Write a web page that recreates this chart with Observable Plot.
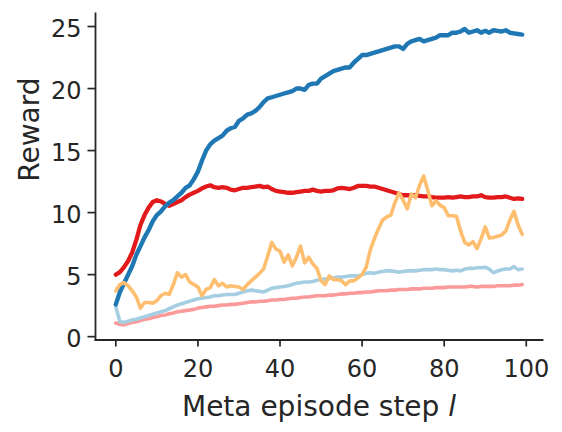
<!DOCTYPE html>
<html>
<head>
<meta charset="utf-8">
<script src="https://cdn.jsdelivr.net/npm/d3@7"></script>
<script src="https://cdn.jsdelivr.net/npm/@observablehq/plot@0.6"></script>
<style>
  html, body { margin: 0; padding: 0; background: #ffffff; }
  #chart svg { display: block; }
</style>
</head>
<body>
<div id="chart"></div>
<script>
// ---- data ----
const steps = [0,1,2,3,4,5,6,7,8,9,10,11,12,13,14,15,16,17,18,19,20,21,22,23,24,25,26,27,28,29,30,31,32,33,34,35,36,37,38,39,40,41,42,43,44,45,46,47,48,49,50,51,52,53,54,55,56,57,58,59,60,61,62,63,64,65,66,67,68,69,70,71,72,73,74,75,76,77,78,79,80,81,82,83,84,85,86,87,88,89,90,91,92,93,94,95,96,97,98,99];

const blueReward = [2.6,3.6,4.3,5.0,5.7,6.6,7.3,8.0,8.6,9.3,
  9.8,10.1,10.5,10.8,11.0,11.3,11.6,12.0,12.2,12.7,
  13.3,14.2,15.0,15.5,15.8,16.0,16.2,16.6,16.8,16.9,
  17.4,17.6,17.9,18.0,18.2,18.5,18.9,19.2,19.3,19.4,
  19.5,19.6,19.7,19.8,20.0,20.0,19.9,20.3,20.4,20.4,
  20.8,21.0,21.2,21.4,21.5,21.6,21.7,21.7,22.1,22.4,
  22.7,22.7,22.8,22.9,23.0,23.1,23.2,23.3,23.4,23.4,
  23.2,23.6,23.8,23.9,24.0,23.8,23.9,24.0,24.1,24.3,
  24.3,24.3,24.5,24.5,24.6,24.8,24.5,24.6,24.7,24.5,
  24.65,24.5,24.7,24.65,24.6,24.7,24.5,24.45,24.4,24.35];

const redReward = [5.0,5.2,5.6,6.1,6.8,7.8,9.0,9.8,10.4,10.85,
  11.0,10.9,10.7,10.55,10.7,10.85,11.0,11.25,11.45,11.6,
  11.75,11.95,12.1,12.2,12.05,12.0,12.05,12.0,11.85,11.8,
  11.9,12.0,12.0,12.05,12.1,12.15,12.05,12.1,11.9,11.75,
  11.7,11.65,11.6,11.6,11.65,11.7,11.75,11.75,11.85,11.75,
  11.7,11.75,11.75,11.8,11.95,12.0,11.95,11.9,12.0,12.15,
  12.15,12.15,12.1,12.1,12.0,11.9,11.8,11.7,11.6,11.5,
  11.4,11.4,11.4,11.4,11.35,11.3,11.3,11.25,11.2,11.2,
  11.2,11.25,11.2,11.25,11.3,11.25,11.25,11.3,11.3,11.4,
  11.25,11.2,11.2,11.25,11.25,11.3,11.2,11.1,11.15,11.1];

const lightBlueReward = [2.4,1.2,1.15,1.25,1.35,1.4,1.5,1.6,1.7,1.8,
  1.9,2.0,2.1,2.25,2.4,2.55,2.65,2.75,2.85,2.95,
  3.05,3.1,3.15,3.2,3.3,3.3,3.35,3.4,3.4,3.4,
  3.5,3.6,3.7,3.75,3.7,3.65,3.6,3.75,3.9,3.95,
  4.0,4.05,4.1,4.2,4.3,4.35,4.4,4.4,4.45,4.55,
  4.6,4.65,4.7,4.75,4.8,4.8,4.85,4.9,4.9,4.9,
  5.0,5.1,5.15,5.1,5.2,5.25,5.3,5.3,5.25,5.2,
  5.25,5.3,5.3,5.3,5.35,5.4,5.4,5.4,5.45,5.4,
  5.4,5.35,5.3,5.35,5.3,5.45,5.5,5.5,5.55,5.55,
  5.6,5.45,5.15,5.3,5.4,5.45,5.45,5.65,5.4,5.45];

const pinkReward = [1.1,1.0,0.95,1.05,1.15,1.2,1.3,1.4,1.45,1.55,
  1.6,1.7,1.75,1.85,1.9,2.0,2.05,2.1,2.15,2.2,
  2.3,2.35,2.4,2.45,2.45,2.5,2.55,2.55,2.6,2.6,
  2.65,2.7,2.75,2.8,2.8,2.85,2.85,2.9,2.95,2.95,
  3.0,3.0,3.05,3.1,3.1,3.15,3.2,3.2,3.25,3.3,
  3.3,3.3,3.35,3.35,3.4,3.45,3.45,3.5,3.5,3.55,
  3.55,3.6,3.6,3.65,3.7,3.7,3.7,3.75,3.75,3.8,
  3.8,3.8,3.85,3.85,3.85,3.9,3.9,3.9,3.95,3.95,
  3.95,4.0,4.0,4.0,4.0,4.0,4.05,4.05,4.0,4.05,
  4.05,4.05,4.05,4.1,4.1,4.1,4.1,4.15,4.15,4.2];

const orangeReward = [3.7,4.2,4.35,4.1,3.7,3.2,2.3,2.75,2.75,2.7,
  2.9,3.3,3.5,3.4,4.2,5.15,4.8,5.0,4.4,4.2,
  4.0,3.3,3.8,3.95,4.6,4.1,4.3,4.0,4.1,4.05,
  4.0,3.8,4.2,4.5,4.8,5.1,5.45,6.5,7.6,7.05,
  6.9,6.0,6.6,5.7,6.4,7.3,5.95,6.4,5.85,5.5,
  4.5,4.2,4.9,4.6,4.6,4.5,4.2,4.5,4.5,4.75,
  5.0,5.6,7.0,7.9,8.7,9.4,9.65,9.8,10.8,11.6,
  11.0,10.3,11.5,11.2,12.2,12.95,11.8,10.55,10.95,10.6,
  10.4,9.75,9.75,9.7,8.5,7.6,7.4,7.65,7.1,7.9,
  8.85,7.95,8.0,8.1,8.2,8.5,9.4,10.1,9.0,8.25];

const xTicks = [0, 20, 40, 60, 80, 100];
const yTicks = [0, 5, 10, 15, 20, 25];
const xLabelMain = "Meta episode step ";
const xLabelVar = "l";
const yLabel = "Reward";

// drawing order (bottom to top) and styles
const seriesNames = ["pink", "lightblue", "red", "blue", "orange"];
const seriesValues = [pinkReward, lightBlueReward, redReward, blueReward, orangeReward];
const seriesColors = ["#fb9a99", "#a6cee3", "#e31a1c", "#1f78b4", "#fdbf6f"];
const seriesWidths = [3.6, 3.6, 4.3, 4.4, 3.6];

const rows = seriesNames.flatMap((name, k) =>
  steps.map((s, i) => ({series: name, step: s, reward: seriesValues[k][i]})));

const ink = "#262626";

const svg = Plot.plot({
  width: 562,
  height: 432,
  marginLeft: 95,
  marginRight: 20,
  marginTop: 13,
  marginBottom: 92.5,
  style: {fontFamily: "DejaVu Sans", fontSize: "24px", color: ink, background: "#ffffff"},
  x: {domain: [-4.95, 103.95]},
  y: {domain: [-0.27, 26.05]},
  marks: [
    ...seriesNames.map((name, k) => Plot.line(rows.filter(r => r.series === name), {
      x: "step", y: "reward", stroke: seriesColors[k], strokeWidth: seriesWidths[k]
    })),
    Plot.frame({anchor: "left", stroke: ink, strokeWidth: 1.8}),
    Plot.frame({anchor: "bottom", stroke: ink, strokeWidth: 1.8}),
    Plot.axisX({ticks: xTicks, tickSize: 7, tickPadding: 13, fontSize: 24, label: null,
      stroke: ink, fill: ink, strokeWidth: 1.7}),
    Plot.axisY({ticks: yTicks, tickSize: 7.5, tickFormat: () => "", label: null,
      stroke: ink, strokeWidth: 1.7}),
    Plot.axisY({ticks: yTicks, tickSize: 0, tickPadding: 14, dy: 2.5, fontSize: 24, label: null,
      fill: ink}),
    Plot.text([xLabelMain + xLabelVar], {text: d => d, frameAnchor: "bottom", lineAnchor: "bottom",
      dy: 75.5, fontSize: 28, fill: ink}),
    Plot.text([yLabel], {text: d => d, frameAnchor: "left", lineAnchor: "bottom", rotate: -90,
      dx: -57, dy: 5, fontSize: 28, fill: ink})
  ]
});

d3.select(svg).selectAll("text")
  .filter(function() { return this.textContent === xLabelMain + xLabelVar; })
  .each(function() {
    const t = d3.select(this);
    t.text(xLabelMain);
    t.append("tspan").attr("font-style", "italic").text(xLabelVar);
  });

document.getElementById("chart").appendChild(svg);
</script>
</body>
</html>
